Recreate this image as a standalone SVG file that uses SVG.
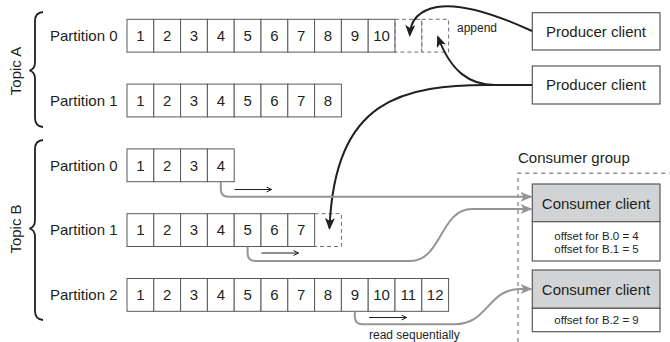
<svg xmlns="http://www.w3.org/2000/svg" width="670" height="342" viewBox="0 0 670 342">
<defs>
<style>
text{font-family:"Liberation Sans",Arial,sans-serif;fill:#231f20}
.lbl{font-size:15px}
.num{font-size:15px;text-anchor:middle}
.c{fill:#fff;stroke:#58595b;stroke-width:1}
.d{fill:none;stroke:#6d6e71;stroke-width:1;stroke-dasharray:4 3}
.box{fill:#fff;stroke:#58595b;stroke-width:1.2}
.hdr{fill:#d1d3d4;stroke:#58595b;stroke-width:1.2}
.brace{fill:none;stroke:#231f20;stroke-width:1.8}
.blk{fill:none;stroke:#231f20;stroke-width:2}
.gry{fill:none;stroke:#939598;stroke-width:2}
.thin{fill:none;stroke:#231f20;stroke-width:1}
.sm{font-size:11.5px;text-anchor:middle}
</style>
<marker id="ab" viewBox="0 0 12 10" refX="10" refY="5" markerWidth="12" markerHeight="10" orient="auto" markerUnits="userSpaceOnUse"><path d="M0,0 L12,5 L0,10 L3,5 Z" fill="#231f20"/></marker>
<marker id="ag" viewBox="0 0 12 10" refX="11" refY="5" markerWidth="12" markerHeight="10" orient="auto" markerUnits="userSpaceOnUse"><path d="M0,0 L12,5 L0,10 L3,5 Z" fill="#939598"/></marker>
<marker id="at" viewBox="0 0 6 6" refX="5.5" refY="3" markerWidth="6" markerHeight="6" orient="auto" markerUnits="userSpaceOnUse"><path d="M0.5,0.5 L5.5,3 L0.5,5.5" fill="none" stroke="#231f20" stroke-width="1"/></marker>
</defs>
<rect width="670" height="342" fill="#fff"/>

<g id="topicA">
<path class="brace" d="M43,12 C37,12.5 35,15.5 35,21 L35,62 C35,67 33.5,69.5 29.5,70.5 C33.5,71.5 35,74 35,79 L35,118 C35,123.5 37,126.5 43,127"/>
<text class="lbl" text-anchor="middle" transform="translate(21,71) rotate(-90)">Topic A</text>
</g>

<g id="topicB">
<path class="brace" d="M43,140 C37,140.5 35,143.5 35,149 L35,220 C35,225 33.5,227.5 29.5,228.5 C33.5,229.5 35,232 35,237 L35,311 C35,316.5 37,319.5 43,320"/>
<text class="lbl" text-anchor="middle" transform="translate(21,229) rotate(-90)">Topic B</text>
</g>

<g id="A0">
<text class="lbl" x="50" y="41">Partition 0</text>
<rect class="c" x="127" y="19.3" width="26.8" height="32.8"/><rect class="c" x="153.8" y="19.3" width="26.8" height="32.8"/><rect class="c" x="180.6" y="19.3" width="26.8" height="32.8"/><rect class="c" x="207.4" y="19.3" width="26.8" height="32.8"/><rect class="c" x="234.2" y="19.3" width="26.8" height="32.8"/><rect class="c" x="261" y="19.3" width="26.8" height="32.8"/><rect class="c" x="287.8" y="19.3" width="26.8" height="32.8"/><rect class="c" x="314.6" y="19.3" width="26.8" height="32.8"/><rect class="c" x="341.4" y="19.3" width="26.8" height="32.8"/><rect class="c" x="368.2" y="19.3" width="26.8" height="32.8"/>
<rect class="d" x="395" y="19.3" width="26.8" height="32.8"/><rect class="d" x="421.8" y="19.3" width="26.8" height="32.8"/>
<text class="num" x="140.4" y="41">1</text><text class="num" x="167.2" y="41">2</text><text class="num" x="194" y="41">3</text><text class="num" x="220.8" y="41">4</text><text class="num" x="247.6" y="41">5</text><text class="num" x="274.4" y="41">6</text><text class="num" x="301.2" y="41">7</text><text class="num" x="328" y="41">8</text><text class="num" x="354.8" y="41">9</text><text class="num" x="381.6" y="41">10</text>
<text x="457" y="32" font-size="12">append</text>
</g>

<g id="A1">
<text class="lbl" x="50" y="105.8">Partition 1</text>
<rect class="c" x="127" y="84.1" width="26.8" height="32.8"/><rect class="c" x="153.8" y="84.1" width="26.8" height="32.8"/><rect class="c" x="180.6" y="84.1" width="26.8" height="32.8"/><rect class="c" x="207.4" y="84.1" width="26.8" height="32.8"/><rect class="c" x="234.2" y="84.1" width="26.8" height="32.8"/><rect class="c" x="261" y="84.1" width="26.8" height="32.8"/><rect class="c" x="287.8" y="84.1" width="26.8" height="32.8"/><rect class="c" x="314.6" y="84.1" width="26.8" height="32.8"/>
<text class="num" x="140.4" y="105.8">1</text><text class="num" x="167.2" y="105.8">2</text><text class="num" x="194" y="105.8">3</text><text class="num" x="220.8" y="105.8">4</text><text class="num" x="247.6" y="105.8">5</text><text class="num" x="274.4" y="105.8">6</text><text class="num" x="301.2" y="105.8">7</text><text class="num" x="328" y="105.8">8</text>
</g>

<g id="B0">
<text class="lbl" x="50" y="170.6">Partition 0</text>
<rect class="c" x="127" y="148.9" width="26.8" height="32.8"/><rect class="c" x="153.8" y="148.9" width="26.8" height="32.8"/><rect class="c" x="180.6" y="148.9" width="26.8" height="32.8"/><rect class="c" x="207.4" y="148.9" width="26.8" height="32.8"/>
<text class="num" x="140.4" y="170.6">1</text><text class="num" x="167.2" y="170.6">2</text><text class="num" x="194" y="170.6">3</text><text class="num" x="220.8" y="170.6">4</text>
</g>

<g id="B1">
<text class="lbl" x="50" y="235.4">Partition 1</text>
<rect class="c" x="127" y="213.7" width="26.8" height="32.8"/><rect class="c" x="153.8" y="213.7" width="26.8" height="32.8"/><rect class="c" x="180.6" y="213.7" width="26.8" height="32.8"/><rect class="c" x="207.4" y="213.7" width="26.8" height="32.8"/><rect class="c" x="234.2" y="213.7" width="26.8" height="32.8"/><rect class="c" x="261" y="213.7" width="26.8" height="32.8"/><rect class="c" x="287.8" y="213.7" width="26.8" height="32.8"/>
<rect class="d" x="314.6" y="213.7" width="26.8" height="32.8"/>
<text class="num" x="140.4" y="235.4">1</text><text class="num" x="167.2" y="235.4">2</text><text class="num" x="194" y="235.4">3</text><text class="num" x="220.8" y="235.4">4</text><text class="num" x="247.6" y="235.4">5</text><text class="num" x="274.4" y="235.4">6</text><text class="num" x="301.2" y="235.4">7</text>
</g>

<g id="B2">
<text class="lbl" x="50" y="300.2">Partition 2</text>
<rect class="c" x="127" y="278.5" width="26.8" height="32.8"/><rect class="c" x="153.8" y="278.5" width="26.8" height="32.8"/><rect class="c" x="180.6" y="278.5" width="26.8" height="32.8"/><rect class="c" x="207.4" y="278.5" width="26.8" height="32.8"/><rect class="c" x="234.2" y="278.5" width="26.8" height="32.8"/><rect class="c" x="261" y="278.5" width="26.8" height="32.8"/><rect class="c" x="287.8" y="278.5" width="26.8" height="32.8"/><rect class="c" x="314.6" y="278.5" width="26.8" height="32.8"/><rect class="c" x="341.4" y="278.5" width="26.8" height="32.8"/><rect class="c" x="368.2" y="278.5" width="26.8" height="32.8"/><rect class="c" x="395" y="278.5" width="26.8" height="32.8"/><rect class="c" x="421.8" y="278.5" width="26.8" height="32.8"/>
<text class="num" x="140.4" y="300.2">1</text><text class="num" x="167.2" y="300.2">2</text><text class="num" x="194" y="300.2">3</text><text class="num" x="220.8" y="300.2">4</text><text class="num" x="247.6" y="300.2">5</text><text class="num" x="274.4" y="300.2">6</text><text class="num" x="301.2" y="300.2">7</text><text class="num" x="328" y="300.2">8</text><text class="num" x="354.8" y="300.2">9</text><text class="num" x="381.6" y="300.2">10</text><text class="num" x="408.4" y="300.2">11</text><text class="num" x="435.2" y="300.2">12</text>
<text x="369" y="339" font-size="12">read sequentially</text>
</g>

<g id="producer1">
<rect class="box" x="532.3" y="12.7" width="127.7" height="37.3"/>
<text class="lbl" x="596" y="36.6" text-anchor="middle">Producer client</text>
</g>

<g id="producer2">
<rect class="box" x="532.3" y="66" width="127.7" height="38"/>
<text class="lbl" x="596" y="90.3" text-anchor="middle">Producer client</text>
</g>

<g id="consumerGroup">
<path d="M518,342 L518,173.3 L670,173.3" fill="none" stroke="#939598" stroke-width="1.5" stroke-dasharray="4 4"/>
<text class="lbl" x="518" y="163">Consumer group</text>
</g>

<g id="consumer1">
<rect class="hdr" x="532.3" y="184" width="127.7" height="37.7"/>
<rect class="box" x="532.3" y="221.7" width="127.7" height="39.3"/>
<text class="lbl" x="596" y="208.5" text-anchor="middle">Consumer client</text>
<text class="sm" x="596.5" y="240">offset for B.0 = 4</text>
<text class="sm" x="596.5" y="253.3">offset for B.1 = 5</text>
</g>

<g id="consumer2">
<rect class="hdr" x="532.3" y="270" width="127.7" height="38.3"/>
<rect class="box" x="532.3" y="308.3" width="127.7" height="23.4"/>
<text class="lbl" x="596" y="294.5" text-anchor="middle">Consumer client</text>
<text class="sm" x="596.5" y="324">offset for B.2 = 9</text>
</g>

<g id="connectors">
<path class="blk" d="M532,31 C495,14 460,3 437,7 C421,10 410.5,18 409.8,35" marker-end="url(#ab)"/>
<path class="blk" d="M532,85 L495,85 C470,85 451,72 438,37" marker-end="url(#ab)"/>
<path class="blk" d="M495,85 C400,84 335,100 329.5,228" marker-end="url(#ab)"/>
<path class="gry" d="M220.8,182 L220.8,189 Q220.8,196.8 228.6,196.8 L531.5,196.8" marker-end="url(#ag)"/>
<path class="gry" d="M247.6,246.5 L247.6,253 Q247.6,261 255.6,261 L410,261 C442,261 440,209 472,209 L531.5,209" marker-end="url(#ag)"/>
<path class="gry" d="M354.8,311.3 L354.8,316.5 Q354.8,324.3 362.6,324.3 L455,324.3 C488,324.3 488,289 520,289 L531.5,289" marker-end="url(#ag)"/>
<path class="thin" d="M234.5,189.5 L271.5,189.5" marker-end="url(#at)"/>
<path class="thin" d="M261.5,253 L298.5,253" marker-end="url(#at)"/>
<path class="thin" d="M369,317.5 L406.5,317.5" marker-end="url(#at)"/>
</g>
</svg>
